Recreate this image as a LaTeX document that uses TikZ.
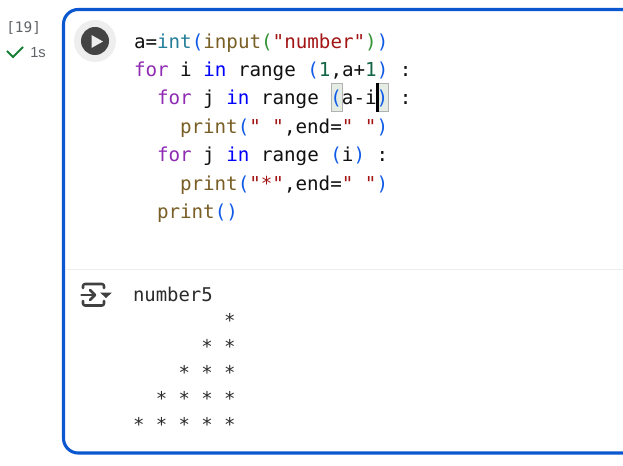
\documentclass[tikz,border=0pt]{standalone}
\usepackage{fontspec}
\setmainfont{Liberation Sans}
\newfontfamily\codefont{DejaVu Sans Mono}
\definecolor{kw}{HTML}{8F2BB3}
\definecolor{blu}{HTML}{0000FF}
\definecolor{brk}{HTML}{0F5AE6}
\definecolor{fnc}{HTML}{795E26}
\definecolor{typ}{HTML}{267F99}
\definecolor{grn}{HTML}{319331}
\definecolor{str}{HTML}{A31515}
\definecolor{num}{HTML}{116644}
\definecolor{ink}{HTML}{111111}
\definecolor{outink}{HTML}{2B2B2B}
\definecolor{cellblue}{HTML}{0B57D0}
\definecolor{gut}{HTML}{5F6368}
\definecolor{okgreen}{HTML}{188038}
\definecolor{matchfill}{HTML}{E4ECE4}
\definecolor{playdark}{HTML}{444444}
\definecolor{playlight}{HTML}{EEEEEE}
\newcommand{\cK}[1]{\textcolor{kw}{#1}}
\newcommand{\cB}[1]{\textcolor{blu}{#1}}
\newcommand{\cP}[1]{\textcolor{brk}{#1}}
\newcommand{\cF}[1]{\textcolor{fnc}{#1}}
\newcommand{\cS}[1]{\textcolor{str}{#1}}
\newcommand{\cN}[1]{\textcolor{num}{#1}}
\tikzset{
 x=0.75pt,y=-0.75pt,
 codeline/.style={anchor=base west,inner sep=0pt,outer sep=0pt,font=\codefont\fontsize{14.4pt}{16pt}\selectfont,text=ink},
 outline/.style={anchor=base west,inner sep=0pt,outer sep=0pt,font=\codefont\fontsize{14.2pt}{16pt}\selectfont,text=outink},
 matchbox/.style={draw=black!30,fill=matchfill,line width=0.75pt},
 iconline/.style={draw=outink!90,line width=1.9pt,line cap=round,line join=round},
}
\begin{document}
\begin{tikzpicture}
\useasboundingbox (0,0) rectangle (623,466);
\fill[white] (0,0) rectangle (623,466);
% cell border
\draw[cellblue,line width=2.3pt,rounded corners=11pt] (626,9.5) -- (63.5,9.5) -- (63.5,453) -- (626,453);
\draw[black!7,line width=0.75pt] (65,269.5) -- (623,269.5);
% gutter
\node[anchor=base west,inner sep=0pt,font=\codefont\fontsize{10.8pt}{13pt}\selectfont,text=gut] (count) at (6,33) {[19]};
\node[anchor=base west,inner sep=0pt,font=\fontsize{11pt}{13pt}\selectfont,text=gut] (dur) at (30,58) {1s};
\draw[okgreen,line width=1.4pt] (7,51) -- (13,57) -- (23,47);
% play
\fill[playlight] (95,41) circle (21);
\fill[playdark] (95,41) circle (14);
\fill[playlight] (91.5,35) -- (91.5,48) -- (103,41.5) -- cycle;
% bracket highlights
\draw[matchbox] (331.5,83.5) rectangle (342.5,111.5);
\draw[matchbox] (378.5,83.5) rectangle (388.5,111.5);
% code
\node[codeline] (l1) at (134,49) {a=\textcolor{typ}{int}\cP{(}\cF{input}\textcolor{grn}{(}\cS{"number"}\textcolor{grn}{)}\cP{)}};
\node[codeline] (l2) at (134,77) {\cK{for} i \cB{in} range \cP{(}\cN{1},a+\cN{1}\cP{)} :};
\node[codeline] (l3) at (157,105) {\cK{for} j \cB{in} range \cP{(}a-i\cP{)} :};
\node[codeline] (l4) at (180,134) {\cF{print}\cP{(}\cS{" "},end=\cS{" "}\cP{)}};
\node[codeline] (l5) at (157,162) {\cK{for} j \cB{in} range \cP{(}i\cP{)} :};
\node[codeline] (l6) at (180,191) {\cF{print}\cP{(}\cS{"*"},end=\cS{" "}\cP{)}};
\node[codeline] (l7) at (157,219) {\cF{print}\cP{(}\cP{)}};
% caret
\fill[black] (376,83) rectangle (379,112);
% output icon
\draw[iconline,rounded corners=1.5pt] (83,288) -- (83,284) -- (104,284) -- (104,288);
\draw[iconline,rounded corners=1.5pt] (83,301) -- (83,305.5) -- (104,305.5) -- (104,301);
\draw[iconline] (81.5,295) -- (95,295);
\draw[iconline] (90,290) -- (95,295) -- (90,300);
\fill[outink!90] (100,292.5) -- (112,292.5) -- (106,298) -- cycle;
% output
\node[outline] (o0) at (133,301) {number5};
\node[outline] (o1) at (133,327) {\ \ \ \ \ \ \ \ *};
\node[outline] (o2) at (133,353) {\ \ \ \ \ \ * *};
\node[outline] (o3) at (133,379) {\ \ \ \ * * *};
\node[outline] (o4) at (133,405) {\ \ * * * *};
\node[outline] (o5) at (133,431) {* * * * *};
\end{tikzpicture}
\end{document}
